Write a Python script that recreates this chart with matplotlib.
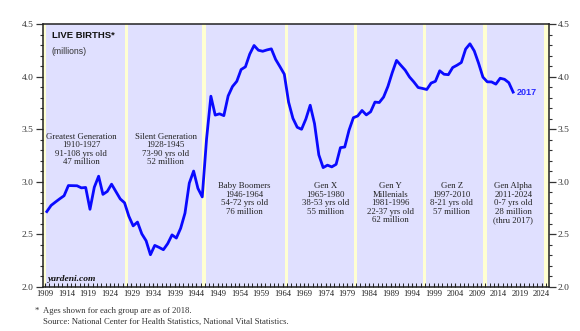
import matplotlib.pyplot as plt
import numpy as np
from matplotlib.ticker import MultipleLocator, FixedLocator

# US live births, millions, 1909-2017
years = np.arange(1909, 2018)
births = [2.718, 2.777, 2.809, 2.840, 2.869, 2.966, 2.965, 2.964, 2.944, 2.948,
          2.740, 2.950, 3.055, 2.882, 2.910, 2.979, 2.909, 2.839, 2.802, 2.674,
          2.582, 2.618, 2.506, 2.440, 2.307, 2.396, 2.377, 2.355, 2.413, 2.496,
          2.466, 2.559, 2.703, 2.989, 3.104, 2.939, 2.858, 3.411, 3.817, 3.637,
          3.649, 3.632, 3.820, 3.909, 3.959, 4.071, 4.097, 4.218, 4.300, 4.255,
          4.245, 4.258, 4.268, 4.167, 4.098, 4.027, 3.760, 3.606, 3.521, 3.502,
          3.600, 3.731, 3.556, 3.258, 3.137, 3.160, 3.144, 3.168, 3.327, 3.333,
          3.494, 3.612, 3.629, 3.681, 3.639, 3.669, 3.761, 3.757, 3.809, 3.910,
          4.041, 4.158, 4.111, 4.065, 4.000, 3.953, 3.900, 3.891, 3.881, 3.942,
          3.959, 4.059, 4.026, 4.022, 4.090, 4.112, 4.138, 4.266, 4.316, 4.248,
          4.131, 3.999, 3.954, 3.953, 3.932, 3.988, 3.978, 3.946, 3.856]

gen_start = [1910, 1928, 1946, 1965, 1981, 1997, 2011]
gen_end = [1927, 1945, 1964, 1980, 1996, 2010, 2024]
gen_labels = [
    "Greatest Generation\n1910-1927\n91-108 yrs old\n47 million",
    "Silent Generation\n1928-1945\n73-90 yrs old\n52 million",
    "Baby Boomers\n1946-1964\n54-72 yrs old\n76 million",
    "Gen X\n1965-1980\n38-53 yrs old\n55 million",
    "Gen Y\nMillenials\n1981-1996\n22-37 yrs old\n62 million",
    "Gen Z\n1997-2010\n8-21 yrs old\n57 million",
    "Gen Alpha\n2011-2024\n0-7 yrs old\n28 million\n(thru 2017)",
]
label_x = [1917.4, 1936.9, 1955.1, 1973.9, 1989.0, 2003.2, 2017.4]
label_y = [3.47, 3.47, 3.0, 3.0, 3.0, 3.0, 3.0]

serif = "Liberation Serif"
sans = "Liberation Sans"

fig = plt.figure(figsize=(5.8, 3.31), dpi=100)
ax = fig.add_axes([0.074, 0.133, 0.8725, 0.793])
ax.set_facecolor("#FFFFD2")

# shaded generation bands, pale yellow gaps between them
for i, (s, e) in enumerate(zip(gen_start, gen_end)):
    left = 1909.3 if i == 0 else s + 0.25
    ax.axvspan(left, e + 0.45, color="#E0E0FF", lw=0, zorder=0)

ax.plot(years + 0.4, births, color="#0A0AFF", lw=2.0, zorder=3)

for x, y, t in zip(label_x, label_y, gen_labels):
    ax.text(x, y, t, ha="center", va="top", fontsize=6.3, family=serif,
            color="#222222", linespacing=1.1)

ax.text(0.017, 0.975, "LIVE BIRTHS*", transform=ax.transAxes, fontsize=6.8,
        weight="bold", family=sans, color="#111111", va="top")
ax.text(0.017, 0.915, "(millions)", transform=ax.transAxes, fontsize=6.2,
        family=sans, color="#333333", va="top")
ax.text(0.010, 0.022, "yardeni.com", transform=ax.transAxes, fontsize=6.8,
        weight="bold", style="italic", family=serif, color="#111111")
ax.text(years[-1] + 1.3, births[-1], "2017", fontsize=6.5, family=sans,
        color="#2A2AFF", va="center", ha="left", weight="semibold")

ax.set_xlim(1908.5, 2025.7)
ax.set_ylim(2.0, 4.5)

ax.yaxis.set_major_locator(MultipleLocator(0.5))
ax.yaxis.set_minor_locator(MultipleLocator(0.1))
ax.tick_params(axis="y", which="both", direction="out", left=True, right=True,
               labelleft=True, labelright=True, labelsize=6.8, colors="#333333",
               pad=1.5)
ax.tick_params(axis="y", which="major", length=5, width=0.9)
ax.tick_params(axis="y", which="minor", length=2.5, width=0.8)
ax.yaxis.set_major_formatter(plt.FuncFormatter(lambda v, p: f"{v:.1f}"))

ax.xaxis.set_major_locator(FixedLocator(np.arange(1909, 2025, 5)))
ax.xaxis.set_minor_locator(MultipleLocator(1))
ax.tick_params(axis="x", which="both", direction="in", top=False,
               labelsize=6.2, colors="#222222", pad=2.5)
ax.tick_params(axis="x", which="major", length=3, width=0.8)
ax.tick_params(axis="x", which="minor", length=3, width=0.7)

for lab in ax.get_xticklabels() + ax.get_yticklabels():
    lab.set_family(serif)

for sp in ax.spines.values():
    sp.set_color("#222222")
    sp.set_linewidth(1.1)

fig.text(35 / 580, 1 - 311 / 331, "*", fontsize=6.2, family=serif,
         color="#333333", va="center")
fig.text(43 / 580, 1 - 311 / 331,
         "Ages shown for each group are as of 2018.", fontsize=6.2,
         family=serif, color="#333333", va="center")
fig.text(43 / 580, 1 - 322 / 331,
         "Source: National Center for Health Statistics, National Vital Statistics.",
         fontsize=6.2, family=serif, color="#333333", va="center")

fig.savefig("out.png", dpi=100)
